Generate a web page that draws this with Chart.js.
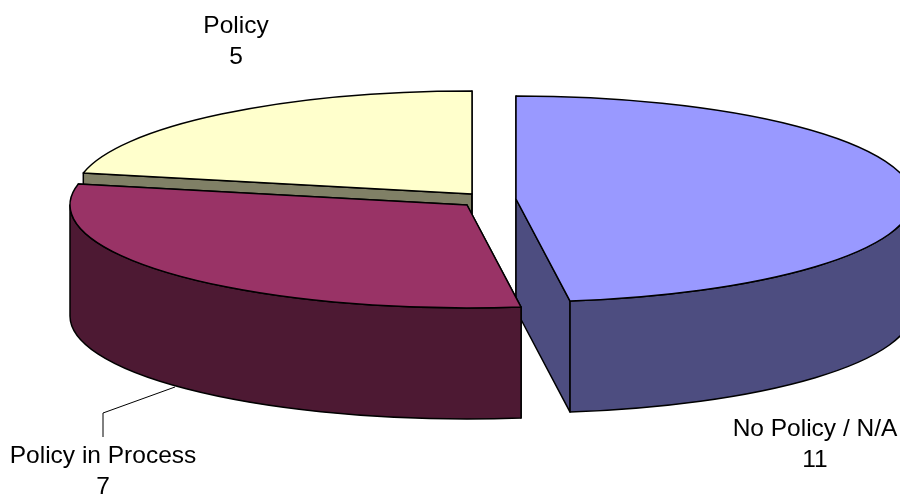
<!DOCTYPE html>
<html>
<head>
<meta charset="utf-8">
<style>
  html, body { margin: 0; padding: 0; background: #fff; }
  canvas { display: block; }
</style>
<script src="https://cdn.jsdelivr.net/npm/chart.js@4"></script>
</head>
<body>
<canvas id="chart" width="900" height="495"></canvas>
<script>
const categories = ['No Policy / N/A', 'Policy in Process', 'Policy'];
const values = [11, 7, 5];
const topColors = ['#9999FF', '#993366', '#FFFFCC'];
const wallColors = ['#4D4D80', '#4D1933', '#808066'];

// where each exploded slice sits on the page, and how the pie is tilted
const sliceCenters = [[516, 199], [467, 205], [472, 194]];
const labelCenters = [[815, 429], [103, 456], [236, 26]];
const RADIUS = 397;
const SQUASH = 103 / 397;
const DEPTH = 111;
const LINE_GAP = 31;

const pie3d = {
    id: 'pie3d',
    beforeDatasetDraw(chart) {
        const ctx = chart.ctx;
        const arcs = chart.getDatasetMeta(0).data;

        // blue first: the purple corner lies on top of its wall
        [0, 2, 1].forEach(i => {
            const arc = arcs[i];
            const [cx, cy] = sliceCenters[i];
            const rx = arc.outerRadius;
            const ry = rx * SQUASH;
            const a0 = arc.startAngle;
            const a1 = arc.endAngle;

            ctx.save();
            ctx.lineWidth = 1.5;
            ctx.lineJoin = 'round';
            ctx.strokeStyle = '#000';
            ctx.fillStyle = wallColors[i];

            // cut faces
            [a0, a1].forEach(a => {
                const x = cx + rx * Math.cos(a);
                const y = cy + ry * Math.sin(a);
                ctx.beginPath();
                ctx.moveTo(cx, cy);
                ctx.lineTo(x, y);
                ctx.lineTo(x, y + DEPTH);
                ctx.lineTo(cx, cy + DEPTH);
                ctx.closePath();
                ctx.fill();
                ctx.stroke();
            });

            // outer wall, only the part facing us
            const lo = Math.max(a0, 0);
            const hi = Math.min(a1, Math.PI);
            if (lo < hi) {
                ctx.beginPath();
                ctx.ellipse(cx, cy, rx, ry, 0, lo, hi);
                ctx.ellipse(cx, cy + DEPTH, rx, ry, 0, hi, lo, true);
                ctx.closePath();
                ctx.fill();
                ctx.stroke();
            }

            // top face: the library's arc, squashed onto the slice centre
            ctx.save();
            ctx.translate(cx, cy);
            ctx.scale(1, SQUASH);
            ctx.translate(-arc.x, -arc.y);
            arc.draw(ctx);
            ctx.restore();

            ctx.beginPath();
            ctx.moveTo(cx, cy);
            ctx.ellipse(cx, cy, rx, ry, 0, a0, a1);
            ctx.closePath();
            ctx.stroke();
            ctx.restore();
        });
        return false;
    },
    afterDraw(chart) {
        const ctx = chart.ctx;
        ctx.save();
        ctx.fillStyle = '#000';
        ctx.font = '24.5px "Liberation Sans", Arial, sans-serif';
        ctx.textAlign = 'center';
        ctx.textBaseline = 'middle';
        categories.forEach((name, i) => {
            const [x, y] = labelCenters[i];
            ctx.fillText(name, x, y);
            ctx.fillText(String(values[i]), x, y + LINE_GAP);
        });

        // leader line for Policy in Process
        ctx.strokeStyle = '#000';
        ctx.lineWidth = 1;
        ctx.beginPath();
        ctx.moveTo(175, 387);
        ctx.lineTo(103, 413);
        ctx.lineTo(103, 437);
        ctx.stroke();
        ctx.restore();
    }
};

new Chart(document.getElementById('chart'), {
    type: 'pie',
    data: {
        labels: categories,
        datasets: [{
            data: values,
            backgroundColor: topColors,
            borderWidth: 0
        }]
    },
    options: {
        responsive: false,
        animation: false,
        radius: RADIUS,
        events: [],
        plugins: {
            legend: { display: false },
            tooltip: { enabled: false }
        }
    },
    plugins: [pie3d]
});
</script>
</body>
</html>
